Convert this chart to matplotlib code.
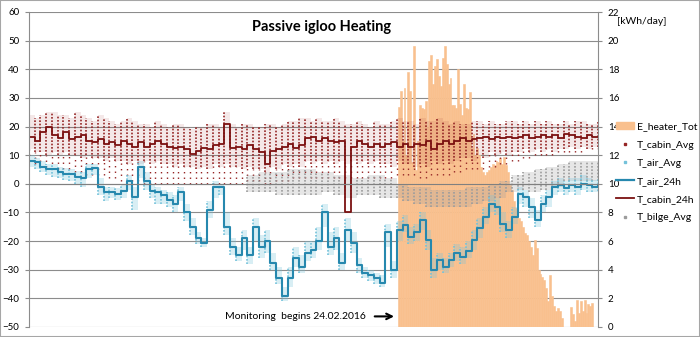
import numpy as np
import pandas as pd
import matplotlib as mpl
mpl.use('Agg')
import matplotlib.pyplot as plt
from matplotlib.patches import Patch, Rectangle
from matplotlib.lines import Line2D

mpl.rcParams.update({
    'font.family': ['Lato', 'DejaVu Sans'],
})

START = '2015-08-14'
nan = np.nan

# one value every 3 days from START
days3 = pd.date_range(START, periods=100, freq='3D')

# 24h mean air temperature
air_24h = [8, 7.5, 6, 5, 5, 4, 3.5, 3.5, 2.5, 2,
           5, 5.5, -1, -3, -3, -3.5, -2.5, 1, -4.5, 6,
           1, -2.5, -3, -4, -5.5, -7, -3, -10, -15, -19,
           -20.5, -9, -1, -1, -15, -22, -25, -19, -25, -15,
           -22, -20, -27.5, -33, -39, -33, -26, -29, -24, -23,
           -20, -10, -22, -19, -27.5, -16, -20.5, -28.5, -31, -32,
           -33, -34.5, -17, -30, -16, -14.5, -18.5, -17, -12.5, -19.5,
           -30, -26.5, -29, -26.5, -24, -25.5, -23.5, -19.5, -15.5, -11.5,
           -7, -8, -14, -16, -11.5, -3.5, -4.5, -8, -12.5, -7,
           -4.5, -1, -0.5, -1.5, -0.5, -1, 0, -0.5, -1, -0.5]
# range of the hourly air readings
air_hi = [10, 9, 8, 7, 7, 6, 5.5, 5, 4.5, 4,
          7, 7, 2, -1, -1, -1.5, 0, 3, -1, 8,
          4, 0, -1, -2, -3, -4, -1, -7, -12, -17,
          -19, -6, 1, 0, -10, -19, -22, -16, -22, -12,
          -18, -16, -24, -29, -36, -29, -22, -25, -20, -20,
          -15, -7, -17, -15, -24, -12, -17, -26, -29, -30,
          -31, -32, -14, -27, -13, -11, -15, -14, -10, -16,
          -26, -24, -26, -24, -21, -22, -20, -16, -12, -8,
          -4, -5, -10, -13, -8, -1, -2, -5, -9, -4,
          -2, 1, 2, 1, 2, 2, 3, 2, 1.5, 2]
air_lo = [6, 5, 4, 3, 2.5, 2, 1.5, 1, 0, -1,
          2, 3, -4, -6, -5, -5.5, -5, -2, -9, 2,
          -2, -5, -7, -7, -8, -10, -6, -13, -18, -21,
          -22, -12, -5, -4, -18, -25, -27, -23, -28, -20,
          -26, -24, -30, -35, -41, -36, -29, -31, -27, -26,
          -23, -15, -25, -23, -30, -20, -24, -31, -33, -34,
          -35, -36, -22, -33, -20, -17, -21, -20, -16, -23,
          -33, -30, -31, -29, -27, -28, -26, -23, -19, -14,
          -10, -11, -17, -19, -14, -7, -8, -12, -15, -10,
          -8, -4, -3, -4, -3, -4, -2, -3, -3, -2.5]

# 24h mean cabin temperature
cabin_24h = [16.5, 15, 18, 20, 17, 16, 18, 15.5, 16.5, 17,
             15, 14.5, 15.5, 14, 14.5, 13.5, 15, 14, 13, 14.5,
             13, 14, 15, 14, 13, 12.5, 13, 12, 10.5, 11.5,
             12.5, 12, 13.5, 14, 21, 12.5, 13, 12, 13.5, 12,
             11, 7, 11.5, 12, 13, 14, 12.5, 13.5, 16, 16.5,
             15, 16, 15, 14.5, 15, -10, 13, 15, 14, 13,
             14, 13, 14, 14.5, 13, 14, 13, 14, 13.5, 15,
             12, 14, 15, 14, 15, 16, 15, 15.5, 16, 16.5,
             15.5, 16.5, 16, 16.5, 16, 16.5, 17, 16, 16.5, 17,
             16.5, 17, 16, 17.5, 17, 16.5, 16, 17, 16.5, 16.5]
# range of the hourly cabin readings (dense part) and the sparse low tail
cabin_hi = [24, 23, 24, 25, 25, 24, 24, 23, 25, 24,
            23, 22, 24, 23, 22, 21, 22, 23, 22, 21,
            21, 20, 22, 21, 20, 21, 21, 20, 19, 20,
            20, 21, 21, 20, 25, 21, 20, 21, 21, 20,
            20, 21, 21, 20, 21, 22, 22, 23, 23, 22,
            23, 22, 22, 23, 22, 21, 21, 22, 21, 20,
            22, 21, 21, 22, 23, 22, 22, 21, 23, 22,
            22, 23, 22, 21, 22, 21, 21, 22, 22, 21,
            22, 21, 21, 22, 22, 21, 22, 21, 22, 21,
            22, 21, 21, 22, 21, 22, 22, 21, 21, 22]
cabin_lo = [12, 11, 11, 10, 11, 10, 11, 10, 10, 9,
            10, 9, 9, 8, 9, 8, 8, 7, 8, 7,
            8, 7, 8, 7, 7, 6, 7, 6, 6, 5,
            6, 5, 7, 6, 7, 6, 6, 5, 6, 5,
            5, 4, 6, 5, 7, 6, 7, 6, 8, 7,
            8, 7, 8, 7, 8, 7, 8, 7, 8, 7,
            8, 7, 7, 6, 8, 7, 7, 6, 7, 6,
            8, 7, 8, 7, 8, 9, 9, 8, 10, 9,
            11, 10, 11, 10, 11, 11, 12, 11, 12, 11,
            12, 11, 12, 12, 13, 12, 13, 12, 13, 13]
cabin_min = [8, 7, 6, 6, 5, 5, 5, 5, 4, 4,
             3, 3, 3, 3, 2, 2, 1, 1, 1, 1,
             0, 0, 0, 0, 0, 0, 0, 0, 0, 0,
             0, 0, 0, 0, 0, 0, 0, 0, 1, 1,
             1, 0, 0, 1, 1, 1, 2, 2, 2, 2,
             2, 2, 2, 2, 2, 2, 2, 2, 2, 2,
             2, 2, 2, 2, 3, 3, 3, 3, 2, 2,
             3, 3, 3, 3, 4, 4, 5, 5, 5, 5,
             6, 6, 7, 7, 8, 8, 9, 9, 10, 10,
             10, 10, 11, 11, 11, 11, 11, 12, 12, 12]
# range of the hourly bilge readings (logged from early December)
bilge_hi = [nan] * 38 + [3, 3, 4, 4, 4, 4, 4, 5, 5, 5,
                         5, 5, 4, 4, 4, 3, 3, 3, 2, 2,
                         2, 3, 3, 3, 2, 2, 0, 0, -1, -1,
                         -1, -1, -2, -2, -2, -2, -2, -2, -1, -1,
                         -1, -1, 0, 0, 1, 1, 3, 3, 4, 4,
                         5, 5, 6, 6, 7, 7, 8, 8, 8, 8, 8, 8]
bilge_lo = [nan] * 38 + [-3, -3, -3, -3, -3, -4, -4, -4, -4, -4,
                         -4, -4, -4, -3, -3, -4, -4, -5, -5, -4,
                         -4, -4, -4, -5, -5, -5, -5, -6, -6, -7,
                         -7, -8, -8, -8, -8, -8, -8, -8, -8, -7,
                         -7, -6, -6, -5, -5, -3, -3, -2, -2, -3,
                         -3, -2, -2, -1, -1, 1, 1, 1, 1, 1, 1, 1]

# daily heater energy [kWh/day] from 23.02.2016
heater_kwh = [15.4, 16.5, 13, 16.7, 12, 17.8, 16.5, 11.5, 19.6, 11,
              13, 15.5, 15.3, 15.2, 15.8, 14, 18.6, 19, 17, 18.2,
              18.7, 17.5, 16.8, 18.8, 19.6, 18.4, 17, 17.4, 15.5, 15.5,
              15.3, 18, 15.6, 14.8, 17, 15.3, 15.2, 16.4, 12.5, 13.5,
              12, 12.5, 12, 11.2, 10.8, 10.6, 10.8, 11, 11.2, 11.4,
              11.3, 11.6, 11.5, 11.8, 11.4, 11.9, 11.3, 10.8, 9.9, 9.6,
              8.8, 8.3, 8.1, 7.6, 7.4, 7.0, 6.6, 6.4, 6.0, 5.6,
              5.0, 6.1, 5.5, 4.0, 3.7, 3.5, 3.3, 2.7, 1.8, 3.6,
              2.2, 1.5, 1.1, 1.3, 1.1, 0.6, 0, 0, 0, 0,
              1.4, 0.9, 0.4, 1.9, 1.0, 1.8, 1.1, 1.9, 1.0, 1.6, 1.5, 1.7, 0]
heater_days = pd.date_range('2016-02-23', periods=len(heater_kwh), freq='D')

tick_labels = ['14.08.15', '14.09.15', '14.10.15', '14.11.15', '14.12.15',
               '14.01.16', '14.02.16', '14.03.16', '14.04.16', '14.05.16']

C_HEAT = '#F9C08E'
C_CAB_DOT = '#952525'
C_CAB_LINE = '#7B1111'
C_AIR_DOT = '#74C2DA'
C_AIR_LINE = '#2688AE'
C_BILGE = '#9C9C9C'
C_GRID = '#8C8C8C'
DOTS = (0, (1, 1))

fig = plt.figure(figsize=(7.0, 3.37), dpi=100)
ax2 = fig.add_axes([29 / 700, 10 / 337, 569 / 700, 315 / 337])
ax = ax2.twinx()
ax.set_zorder(ax2.get_zorder() + 1)
ax.patch.set_visible(False)

# ---- heater energy (right axis) ----
ax2.bar(heater_days, heater_kwh, width=1.0, color=C_HEAT,
        edgecolor=C_HEAT, linewidth=0.4)
ax2.set_ylim(0, 22)
ax2.set_yticks(np.arange(0, 23, 2))
ax2.yaxis.tick_right()
ax2.yaxis.grid(True, color=C_GRID, linewidth=0.8)
ax2.set_axisbelow(True)

# ---- temperatures (left axis): hourly values as dotted columns ----
ax.yaxis.tick_left()
ax.vlines(days3, cabin_min, cabin_lo, colors=C_CAB_DOT, linestyles=(0, (1, 3)),
          lw=1.0)
ax.fill_between(days3, cabin_lo, cabin_hi, step='post', color=C_CAB_DOT,
                alpha=0.1, lw=0)
ax.vlines(days3, cabin_lo, cabin_hi, colors=C_CAB_DOT, linestyles=DOTS, lw=1.2)
ax.fill_between(days3, bilge_lo, bilge_hi, step='post', color=C_BILGE,
                alpha=0.25, lw=0)
ax.vlines(days3, bilge_lo, bilge_hi, colors=C_BILGE, linestyles=DOTS, lw=1.2)
ax.fill_between(days3, air_lo, air_hi, step='post', color=C_AIR_DOT,
                alpha=0.28, lw=0)
ax.vlines(days3, air_lo, air_hi, colors=C_AIR_DOT, linestyles=DOTS, lw=1.2)
ax.plot(days3, cabin_24h, drawstyle='steps-post', color=C_CAB_LINE, lw=1.3)
ax.plot(days3, air_24h, drawstyle='steps-post', color=C_AIR_LINE, lw=1.5)

ax.set_ylim(-50, 60)
ax.set_yticks(np.arange(-50, 61, 10))
ax.set_xlim(pd.Timestamp('2015-08-14'), pd.Timestamp('2016-06-06'))
ax2.set_xlim(ax.get_xlim())

ticks = pd.to_datetime(tick_labels, format='%d.%m.%y')
ax.set_xticks(ticks)
ax.set_xticklabels(tick_labels)
ax.tick_params(axis='x', length=0, pad=5, labelsize=6.5)
ax.tick_params(axis='y', length=3, color=C_GRID, pad=4, labelsize=7)
ax2.tick_params(axis='y', length=3, color=C_GRID, pad=4, labelsize=7)
ax2.tick_params(axis='x', bottom=False, labelbottom=False)

ax.spines['bottom'].set_position(('data', 0))
ax.spines['bottom'].set_color('#808080')
ax.spines['top'].set_visible(False)
ax.spines['right'].set_visible(False)
ax.spines['left'].set_color(C_GRID)
for s in ['top', 'bottom', 'left']:
    ax2.spines[s].set_visible(False)
ax2.spines['right'].set_color(C_GRID)

# ---- annotation ----
ax.annotate('', xy=(pd.Timestamp('2016-02-22'), -46.3),
            xytext=(pd.Timestamp('2016-02-09'), -46.3),
            arrowprops=dict(arrowstyle='->', lw=1.5, color='black'))
ax.text(pd.Timestamp('2016-02-06'), -46.3, 'Monitoring  begins 24.02.2016',
        ha='right', va='center', fontsize=7.5)

fig.text(322 / 700, 1 - 27 / 337, 'Passive igloo Heating', ha='center',
         va='center', fontsize=10.5, fontweight='bold')
fig.text(617 / 700, 1 - 21 / 337, '[kWh/day]', ha='left', va='center',
         fontsize=7.5)

handles = [Patch(facecolor=C_HEAT, edgecolor=C_HEAT),
           Line2D([], [], ls='none', marker='s', ms=1.5, color=C_CAB_DOT),
           Line2D([], [], ls='none', marker='s', ms=1.5, color=C_AIR_DOT),
           Line2D([], [], color=C_AIR_LINE, lw=1.6),
           Line2D([], [], color=C_CAB_LINE, lw=1.3),
           Line2D([], [], ls='none', marker='s', ms=1.5, color=C_BILGE)]
labels = ['E_heater_Tot', 'T_cabin_Avg', 'T_air_Avg', 'T_air_24h',
          'T_cabin_24h', 'T_bilge_Avg']
fig.legend(handles, labels, loc='upper left',
           bbox_to_anchor=(612 / 700, 1 - 118 / 337),
           frameon=False, fontsize=7.5, handlelength=1.7, handletextpad=0.3,
           labelspacing=0.85, borderaxespad=0)

fig.add_artist(Rectangle((0, 0), 1, 1, transform=fig.transFigure, fill=False,
                         edgecolor='#A6A6A6', linewidth=1.5))

fig.savefig('out.png', dpi=100, facecolor='white')
